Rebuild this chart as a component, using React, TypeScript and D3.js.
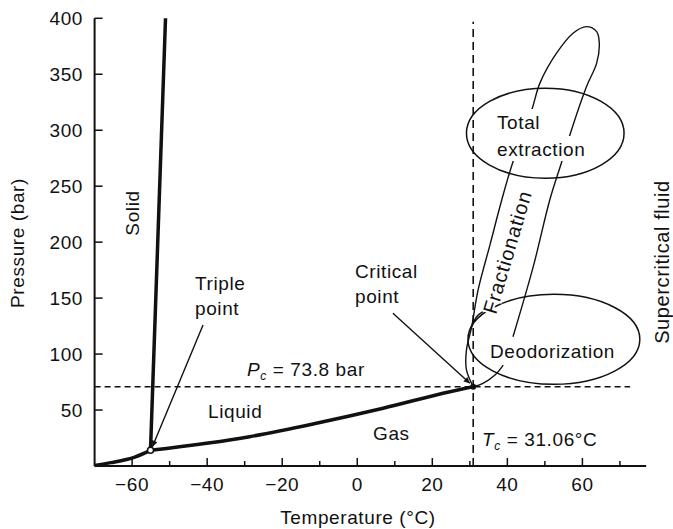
import React from "react";
import * as d3 from "d3";

// ---- data (temperature °C, pressure bar) ----
const xMajorTicks = [-60, -40, -20, 0, 20, 40, 60];
const xMinorTicks = [-50, -30, -10, 10, 30, 50, 70];
const xTickLabels = ["\u221260", "\u221240", "\u221220", "0", "20", "40", "60"];
const yTicks = [50, 100, 150, 200, 250, 300, 350, 400];
const yTickLabels = ["50", "100", "150", "200", "250", "300", "350", "400"];

const sublimationCurve: [number, number][] = [[-70, 0.5], [-65.6, 3], [-59.3, 8], [-55.1, 14]];
const meltingCurve: [number, number][] = [[-55.1, 14], [-51.1, 400]];
const vaporCurve: [number, number][] = [[-55.1, 14], [-28.7, 26.2], [-10.9, 38.2], [6.9, 51.6], [24.7, 66.4], [30.9, 70.9]];
const triplePoint: [number, number] = [-55.1, 14];
const criticalPoint: [number, number] = [30.9, 70.9];

const fractionationLoop: [number, number][] = [
  [30.9, 70.9], [29.1, 85.8], [29.1, 103.7], [30.5, 124.5], [32.2, 157.3], [35.4, 198],
  [38.5, 237.7], [41.5, 271.9], [46.5, 318.1], [48.7, 342.3], [53.1, 368.8], [57.5, 386.7],
  [61.1, 392.6], [63.8, 388.1], [64.5, 377.7], [63.8, 359.9], [61.1, 339.0], [56.7, 296.2],
  [54.5, 271.9], [51.3, 237.7], [46.9, 178.1], [41.5, 115.5],
];
const fractionationHook: [number, number][] = [[33.5, 137.9], [31.8, 133.4], [30.5, 124.5]];
const deodorizationPath: [number, number][] = [[30.9, 70.9], [33.5, 73.9], [36.7, 81.3], [38.9, 90.2]];

const totalEllipse = { t: 50.1, p: 297.3, rt: 21, rp: 40.2 };
const deodEllipse = { t: 52.4, p: 113.2, rt: 22.9, rp: 40.2 };

const tripleArrow: [number, number][] = [[-41.1, 126], [-54.6, 17.2]];
const criticalArrow: [number, number][] = [[9.5, 136.5], [30, 73.9]];
const pcLineEnd = 72.7;
const tcLineTop = 397;

const FONT = "'Liberation Sans', Arial, Helvetica, sans-serif";

export default function App() {
  const x = d3.scaleLinear().domain([-70, 77]).range([94.6, 646.2]);
  const y = d3.scaleLinear().domain([0, 400]).range([466, 18.3]);
  const line = d3.line<[number, number]>().x((d) => x(d[0])).y((d) => y(d[1]));
  const smooth = d3.line<[number, number]>().x((d) => x(d[0])).y((d) => y(d[1])).curve(d3.curveCatmullRom.alpha(0.5));
  const mono = d3.line<[number, number]>().x((d) => x(d[0])).y((d) => y(d[1])).curve(d3.curveMonotoneX);

  const txt = { fontFamily: FONT, fontSize: 19, letterSpacing: 0.6, fill: "#111" } as const;
  const x0 = x(-70);
  const y0 = y(0);

  return (
    <svg width={673} height={529} style={{ position: "absolute", left: 0, top: 0, background: "#fff" }}>
      <defs>
        <marker id="arr" viewBox="0 0 10 10" refX={10} refY={5} markerWidth={11} markerHeight={6}
          orient="auto" markerUnits="userSpaceOnUse">
          <path d="M0,0 L10,5 L0,10 Z" fill="#111" />
        </marker>
      </defs>

      {/* dashed reference lines */}
      <line x1={x0} x2={x(pcLineEnd)} y1={y(criticalPoint[1])} y2={y(criticalPoint[1])}
        stroke="#111" strokeWidth={1.5} strokeDasharray="6,4" />
      <line x1={x(criticalPoint[0])} x2={x(criticalPoint[0])} y1={y0} y2={y(tcLineTop)}
        stroke="#111" strokeWidth={1.6} strokeDasharray="8,5" />

      {/* phase boundaries */}
      <path d={mono(sublimationCurve) || ""} fill="none" stroke="#111" strokeWidth={3.5} />
      <path d={line(meltingCurve) || ""} fill="none" stroke="#111" strokeWidth={3.5} />
      <path d={mono(vaporCurve) || ""} fill="none" stroke="#111" strokeWidth={3.5} />

      {/* process paths */}
      <path d={smooth(fractionationLoop) || ""} fill="none" stroke="#111" strokeWidth={1.4} />
      <path d={smooth(fractionationHook) || ""} fill="none" stroke="#111" strokeWidth={1.4} />
      <path d={smooth(deodorizationPath) || ""} fill="none" stroke="#111" strokeWidth={1.4} />

      {/* white backgrounds for text in ellipse */}
      <rect x={494} y={109} width={51} height={30} fill="#fff" />
      <rect x={494} y={136} width={97} height={25} fill="#fff" />

      {/* ellipses */}
      <ellipse cx={x(totalEllipse.t)} cy={y(totalEllipse.p)}
        rx={x(totalEllipse.t + totalEllipse.rt) - x(totalEllipse.t)}
        ry={y(totalEllipse.p - totalEllipse.rp) - y(totalEllipse.p)}
        fill="none" stroke="#111" strokeWidth={1.5} />
      <ellipse cx={x(deodEllipse.t)} cy={y(deodEllipse.p)}
        rx={x(deodEllipse.t + deodEllipse.rt) - x(deodEllipse.t)}
        ry={y(deodEllipse.p - deodEllipse.rp) - y(deodEllipse.p)}
        fill="none" stroke="#111" strokeWidth={1.5} />

      {/* points */}
      <circle cx={x(triplePoint[0])} cy={y(triplePoint[1])} r={3} fill="#fff" stroke="#111" strokeWidth={1.5} />
      <circle cx={x(criticalPoint[0])} cy={y(criticalPoint[1])} r={3} fill="#111" />

      {/* arrows */}
      <path d={line(tripleArrow) || ""} stroke="#111" strokeWidth={1.4} fill="none" markerEnd="url(#arr)" />
      <path d={line(criticalArrow) || ""} stroke="#111" strokeWidth={1.4} fill="none" markerEnd="url(#arr)" />

      {/* axes */}
      <line x1={x0} x2={x(77)} y1={y0} y2={y0} stroke="#111" strokeWidth={2} />
      <line x1={x0} x2={x0} y1={y0} y2={y(400)} stroke="#111" strokeWidth={2} />
      {xMajorTicks.map((t, i) => (
        <g key={"xm" + t}>
          <line x1={x(t)} x2={x(t)} y1={y0} y2={y0 - 8} stroke="#111" strokeWidth={1.5} />
          <text x={x(t)} y={490.5} textAnchor="middle" {...txt}>{xTickLabels[i]}</text>
        </g>
      ))}
      {xMinorTicks.map((t) => (
        <line key={"xn" + t} x1={x(t)} x2={x(t)} y1={y0} y2={y0 - 5} stroke="#111" strokeWidth={1.5} />
      ))}
      {yTicks.map((t, i) => (
        <g key={"y" + t}>
          <line x1={x0} x2={x0 + 8} y1={y(t)} y2={y(t)} stroke="#111" strokeWidth={1.5} />
          <text x={83} y={y(t)} dy="0.35em" textAnchor="end" {...txt}>{yTickLabels[i]}</text>
        </g>
      ))}

      {/* axis titles */}
      <text x={358} y={524} textAnchor="middle" {...txt}>Temperature (°C)</text>
      <text transform="translate(24,243) rotate(-90)" textAnchor="middle" {...txt}>Pressure (bar)</text>

      {/* region labels */}
      <text transform="translate(139,213) rotate(-90)" textAnchor="middle" {...txt}>Solid</text>
      <text x={208} y={418} {...txt}>Liquid</text>
      <text x={373} y={440} {...txt}>Gas</text>
      <text transform="translate(669,262) rotate(-90)" textAnchor="middle" {...txt} fontSize={20}>Supercritical fluid</text>

      <text x={195} y={290} {...txt}>Triple</text>
      <text x={195} y={315} {...txt}>point</text>
      <text x={355} y={278} {...txt}>Critical</text>
      <text x={355} y={303} {...txt}>point</text>

      <text x={247} y={376} {...txt}>
        <tspan fontStyle="italic">P</tspan>
        <tspan fontStyle="italic" fontSize={12} dy={4}>c</tspan>
        <tspan dy={-4}> = 73.8 bar</tspan>
      </text>
      <text x={482} y={446} {...txt}>
        <tspan fontStyle="italic">T</tspan>
        <tspan fontStyle="italic" fontSize={12} dy={4}>c</tspan>
        <tspan dy={-4}> = 31.06°C</tspan>
      </text>

      <text x={497} y={129} {...txt}>Total</text>
      <text x={497} y={156} {...txt}>extraction</text>
      <text x={490} y={358} {...txt}>Deodorization</text>
      <text transform="translate(514,254) rotate(-73.5)" textAnchor="middle" {...txt} fontSize={20} letterSpacing={0.9}
        stroke="#fff" strokeWidth={4} paintOrder="stroke">Fractionation</text>
    </svg>
  );
}
